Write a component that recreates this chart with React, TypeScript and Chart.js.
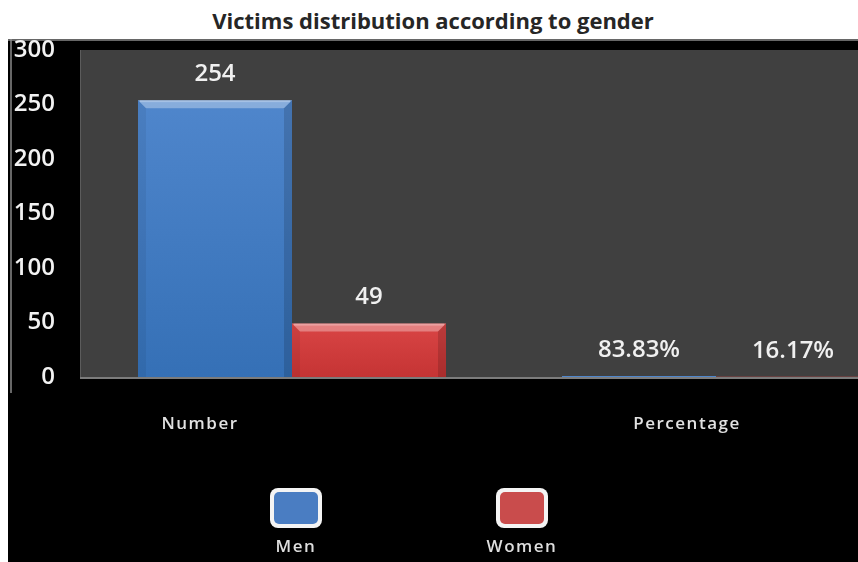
import React, { useEffect, useRef } from "react";
import { Chart, registerables } from "chart.js";

Chart.register(...registerables);

// ---- data ----
const categories = ["Number", "Percentage"];
const seriesNames = ["Men", "Women"];
const menValues = [254, 0.8383];
const womenValues = [49, 0.1617];
const yMin = 0;
const yMax = 300;
const yStep = 50;

// ---- styles ----
const FONT = '"Open Sans", "Noto Sans", "DejaVu Sans", sans-serif';
const labelShift = [-92, -29];
const legendCenters = [288, 514];
const barTop = ["#4f86cc", "#d94545"];
const barBottom = ["#3570b6", "#c53434"];
const legendColors = ["#4a7dc2", "#c94c4c"];

function formatValue(v: number, catIndex: number): string {
  return catIndex === 1 ? (v * 100).toFixed(2) + "%" : String(v);
}

function makeFill(seriesIndex: number) {
  return (ctx: any) => {
    const chart = ctx.chart;
    const ys = chart.scales && chart.scales.y;
    if (!chart.chartArea || !ys || typeof ctx.raw !== "number") return barTop[seriesIndex];
    const top = ys.getPixelForValue(ctx.raw);
    const bottom = ys.getPixelForValue(0);
    if (!isFinite(top) || !isFinite(bottom) || bottom - top < 2) return barTop[seriesIndex];
    const g = chart.ctx.createLinearGradient(0, top, 0, bottom);
    g.addColorStop(0, barTop[seriesIndex]);
    g.addColorStop(1, barBottom[seriesIndex]);
    return g;
  };
}

const decorPlugin = {
  id: "decor",
  beforeDraw(chart: any) {
    const { ctx, chartArea } = chart;
    ctx.save();
    ctx.fillStyle = "#404040";
    ctx.fillRect(chartArea.left, chartArea.top, chartArea.right - chartArea.left, chartArea.bottom - chartArea.top);
    ctx.strokeStyle = "#8a8a8a";
    ctx.lineWidth = 1.5;
    ctx.beginPath();
    ctx.moveTo(0, 1);
    ctx.lineTo(chart.width, 1);
    ctx.stroke();
    ctx.beginPath();
    ctx.moveTo(3, 0);
    ctx.lineTo(3, chartArea.bottom + 16);
    ctx.stroke();
    ctx.restore();
  },
  afterDatasetsDraw(chart: any) {
    const { ctx, chartArea } = chart;
    ctx.save();
    chart.data.datasets.forEach((ds: any, di: number) => {
      const meta = chart.getDatasetMeta(di);
      meta.data.forEach((bar: any, i: number) => {
        const w = bar.width;
        const left = bar.x - w / 2;
        const right = bar.x + w / 2;
        const top = bar.y;
        const bottom = bar.base;
        if (bottom - top > 14) {
          const d = 8;
          ctx.fillStyle = "rgba(255,255,255,0.32)";
          ctx.beginPath();
          ctx.moveTo(left, top);
          ctx.lineTo(right, top);
          ctx.lineTo(right - d, top + d);
          ctx.lineTo(left + d, top + d);
          ctx.closePath();
          ctx.fill();
          ctx.fillStyle = "rgba(255,255,255,0.25)";
          ctx.fillRect(left + 2, top, w - 4, 2);
          ctx.fillStyle = "rgba(0,0,0,0.06)";
          ctx.beginPath();
          ctx.moveTo(left, top);
          ctx.lineTo(left + d, top + d);
          ctx.lineTo(left + d, bottom);
          ctx.lineTo(left, bottom);
          ctx.closePath();
          ctx.fill();
          ctx.fillStyle = "rgba(0,0,0,0.14)";
          ctx.beginPath();
          ctx.moveTo(right, top);
          ctx.lineTo(right - d, top + d);
          ctx.lineTo(right - d, bottom);
          ctx.lineTo(right, bottom);
          ctx.closePath();
          ctx.fill();
        }
        ctx.fillStyle = "#f0f0f0";
        ctx.font = `600 24px ${FONT}`;
        ctx.textAlign = "center";
        ctx.textBaseline = "middle";
        ctx.fillText(formatValue(ds.data[i], i), bar.x, top - 26);
      });
    });
    ctx.strokeStyle = "#5c5c5c";
    ctx.lineWidth = 1;
    ctx.beginPath();
    ctx.moveTo(chartArea.left + 0.5, chartArea.top);
    ctx.lineTo(chartArea.left + 0.5, chartArea.bottom);
    ctx.stroke();
    ctx.strokeStyle = "#7c7c7c";
    ctx.lineWidth = 2;
    ctx.beginPath();
    ctx.moveTo(chartArea.left, chartArea.bottom + 1);
    ctx.lineTo(chartArea.right, chartArea.bottom + 1);
    ctx.stroke();
    ctx.restore();
  },
  afterDraw(chart: any) {
    const { ctx, chartArea } = chart;
    const xs = chart.scales.x;
    ctx.save();
    (ctx as any).letterSpacing = "1.5px";
    ctx.textAlign = "center";
    ctx.textBaseline = "middle";
    ctx.font = `600 17px ${FONT}`;
    ctx.fillStyle = "#e2e2e2";
    chart.data.labels.forEach((lab: string, i: number) => {
      ctx.fillText(lab, xs.getPixelForTick(i) + labelShift[i], chartArea.bottom + 47);
    });
    chart.data.datasets.forEach((ds: any, di: number) => {
      const cx = legendCenters[di];
      const cy = chartArea.bottom + 131;
      const bw = 52;
      const bh = 40;
      ctx.fillStyle = "#f4f4f4";
      ctx.beginPath();
      (ctx as any).roundRect(cx - bw / 2, cy - bh / 2, bw, bh, 8);
      ctx.fill();
      ctx.fillStyle = legendColors[di];
      ctx.beginPath();
      (ctx as any).roundRect(cx - bw / 2 + 4, cy - bh / 2 + 4, bw - 8, bh - 8, 5);
      ctx.fill();
      ctx.fillStyle = "#dedede";
      ctx.fillText(ds.label, cx, chartArea.bottom + 170);
    });
    ctx.restore();
  },
};

export default function App() {
  const ref = useRef<HTMLCanvasElement | null>(null);

  useEffect(() => {
    document.body.style.overflow = "hidden";
    if (!ref.current) return;
    const chart = new Chart(ref.current, {
      type: "bar",
      data: {
        labels: categories,
        datasets: [
          { label: seriesNames[0], data: menValues, backgroundColor: makeFill(0), borderWidth: 0 },
          { label: seriesNames[1], data: womenValues, backgroundColor: makeFill(1), borderWidth: 0 },
        ],
      },
      options: {
        responsive: false,
        animation: false,
        layout: { padding: { top: 11, left: 0, right: 0, bottom: 0 } },
        datasets: { bar: { categoryPercentage: 0.7264, barPercentage: 1 } },
        plugins: {
          legend: { display: false },
          title: { display: false },
          tooltip: { enabled: false },
        },
        scales: {
          x: {
            grid: { display: false },
            border: { display: false },
            ticks: { display: false },
            afterFit: (s: any) => {
              s.height = 185;
              s.paddingLeft = 0;
              s.paddingRight = 0;
            },
          },
          y: {
            min: yMin,
            max: yMax,
            grid: { display: false, drawTicks: false },
            border: { display: false },
            ticks: {
              stepSize: yStep,
              padding: 25,
              color: "#f2f2f2",
              font: { family: FONT, size: 24, weight: "600" },
            },
            afterFit: (s: any) => {
              s.width = 72;
              s.paddingTop = 0;
              s.paddingBottom = 0;
            },
          },
        },
      },
      plugins: [decorPlugin],
    });
    return () => chart.destroy();
  }, []);

  return (
    <div style={{ position: "absolute", left: 8, top: 8, width: 850, height: 554, overflow: "hidden", background: "#fff" }}>
      <div
        style={{
          position: "absolute",
          left: 0,
          top: 0,
          width: 850,
          height: 31,
          textAlign: "center",
          fontFamily: FONT,
          fontWeight: 700,
          fontSize: 22,
          lineHeight: "25px",
          color: "#262626",
        }}
      >
        Victims distribution according to gender
      </div>
      <div style={{ position: "absolute", left: 0, top: 31, width: 850, height: 523, background: "#000", overflow: "hidden" }}>
        <canvas ref={ref} width={920} height={523} style={{ display: "block", width: 920, height: 523 }} />
      </div>
    </div>
  );
}
